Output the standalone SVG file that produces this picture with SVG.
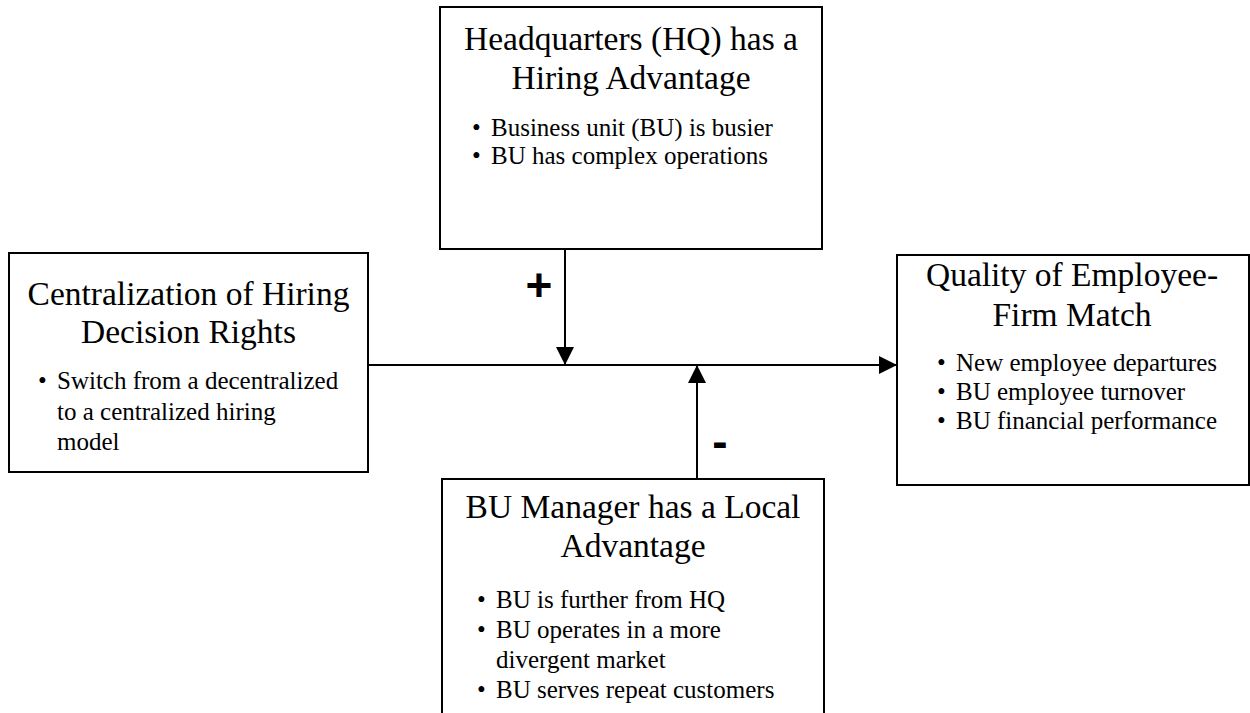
<svg xmlns="http://www.w3.org/2000/svg" width="1250" height="713" viewBox="0 0 1250 713">
<defs>
<style>
.box{fill:#fff;stroke:#000;stroke-width:2}
.t{font-family:"Liberation Serif","Times New Roman",serif;font-size:33.5px;fill:#000;text-anchor:middle}
.b{font-family:"Liberation Serif","Times New Roman",serif;font-size:25px;fill:#000}
.sign{font-family:"Liberation Sans",Arial,sans-serif;font-weight:bold;font-size:46px;fill:#000;text-anchor:middle}
.ln{stroke:#000;stroke-width:2;fill:none}
</style>
<marker id="ah" markerWidth="18" markerHeight="18" viewBox="0 0 18 18" refX="17" refY="9" orient="auto" markerUnits="userSpaceOnUse">
<path d="M0,0 L18,9 L0,18 Z" fill="#000"/>
</marker>
</defs>
<rect width="1250" height="713" fill="#fff"/>
<g id="hq">
<rect class="box" x="440" y="7" width="382" height="242"/>
<text class="t" x="631" y="50">Headquarters (HQ) has a</text>
<text class="t" x="631" y="89">Hiring Advantage</text>
<text class="b" x="472" y="136">•</text><text class="b" x="491" y="136">Business unit (BU) is busier</text>
<text class="b" x="472" y="164">•</text><text class="b" x="491" y="164">BU has complex operations</text>
</g>
<g id="central">
<rect class="box" x="9" y="253" width="359" height="219"/>
<text class="t" x="188.5" y="305">Centralization of Hiring</text>
<text class="t" x="188.5" y="343">Decision Rights</text>
<text class="b" x="38" y="389">•</text><text class="b" x="57" y="389">Switch from a decentralized</text>
<text class="b" x="57" y="420">to a centralized hiring</text>
<text class="b" x="57" y="450">model</text>
</g>
<g id="quality">
<rect class="box" x="897" y="255" width="352" height="230"/>
<text class="t" x="1072" y="286">Quality of Employee-</text>
<text class="t" x="1072" y="326">Firm Match</text>
<text class="b" x="937" y="371">•</text><text class="b" x="956" y="371">New employee departures</text>
<text class="b" x="937" y="400">•</text><text class="b" x="956" y="400">BU employee turnover</text>
<text class="b" x="937" y="429">•</text><text class="b" x="956" y="429">BU financial performance</text>
</g>
<g id="local">
<rect class="box" x="442" y="479" width="382" height="250"/>
<text class="t" x="633" y="518">BU Manager has a Local</text>
<text class="t" x="633" y="557">Advantage</text>
<text class="b" x="477" y="608">•</text><text class="b" x="496" y="608">BU is further from HQ</text>
<text class="b" x="477" y="638">•</text><text class="b" x="496" y="638">BU operates in a more</text>
<text class="b" x="496" y="668">divergent market</text>
<text class="b" x="477" y="698">•</text><text class="b" x="496" y="698">BU serves repeat customers</text>
</g>
<g id="connectors">
<line class="ln" x1="368" y1="365" x2="896" y2="365" marker-end="url(#ah)"/>
<line class="ln" x1="565" y1="249" x2="565" y2="364" marker-end="url(#ah)"/>
<line class="ln" x1="697" y1="479" x2="697" y2="366" marker-end="url(#ah)"/>
<text class="sign" x="539" y="301">+</text>
<text class="sign" x="720" y="457">-</text>
</g>
</svg>
